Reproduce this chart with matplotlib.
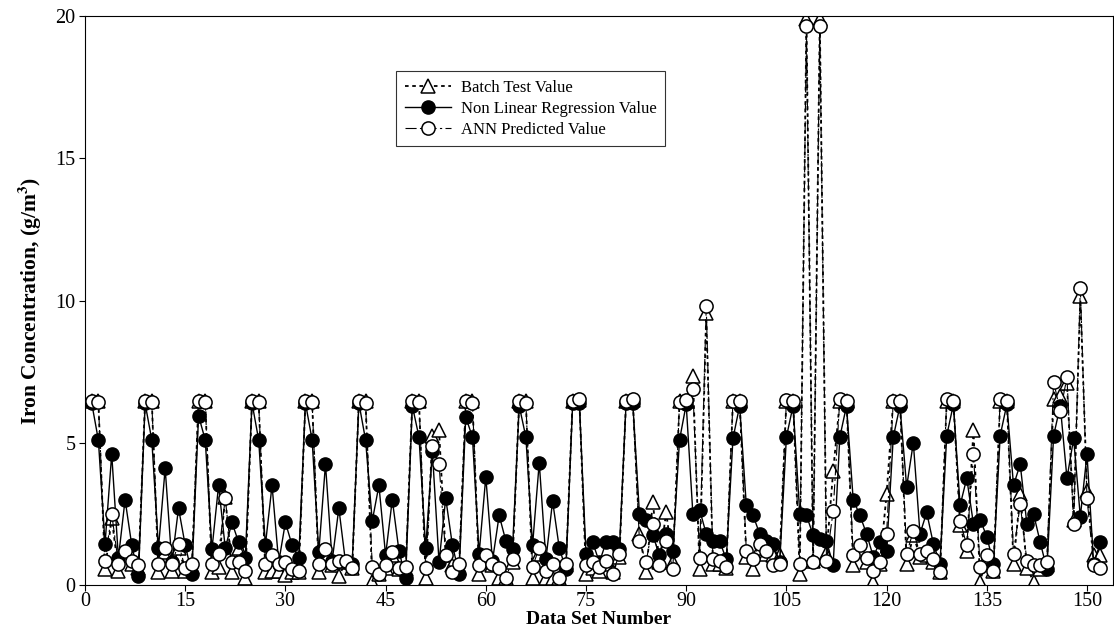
import numpy as np
import matplotlib
matplotlib.use("Agg")
import matplotlib.pyplot as plt

plt.rcParams['font.family'] = ['Liberation Serif', 'DejaVu Serif']
plt.rcParams['mathtext.fontset'] = 'stix'

data_set = np.arange(1, 153)

nonlinear = [
    6.40, 5.10, 1.45, 4.60, 0.95, 3.00, 1.40, 0.30,
    6.38, 5.10, 1.30, 4.10, 0.80, 2.70, 1.40, 0.40,
    5.95, 5.10, 1.25, 3.50, 1.30, 2.20, 1.50, 0.95,
    6.40, 5.10, 1.40, 3.50, 0.80, 2.20, 1.40, 0.95,
    6.40, 5.10, 1.15, 4.25, 0.85, 2.70, 0.80, 0.75,
    6.40, 5.10, 2.25, 3.50, 1.05, 3.00, 1.20, 0.25,
    6.30, 5.20, 1.30, 4.70, 0.80, 3.05, 1.40, 0.40,
    5.90, 5.20, 1.10, 3.80, 0.85, 2.45, 1.55, 1.25,
    6.30, 5.20, 1.40, 4.30, 0.90, 2.95, 1.30, 0.55,
    6.38, 6.38, 1.10, 1.50, 0.80, 1.50, 1.50, 1.25,
    6.40, 6.40, 2.50, 2.30, 1.75, 1.05, 1.80, 1.20,
    5.10, 6.35, 2.50, 2.65, 1.80, 1.55, 1.55, 0.90,
    5.15, 6.30, 2.80, 2.45, 1.80, 1.55, 1.45, 0.80,
    5.20, 6.30, 2.50, 2.45, 1.75, 1.60, 1.55, 0.70,
    5.20, 6.30, 3.00, 2.45, 1.80, 1.00, 1.50, 1.20,
    5.20, 6.30, 3.45, 5.00, 1.80, 2.55, 1.45, 0.75,
    5.25, 6.35, 2.80, 3.75, 2.15, 2.30, 1.70, 0.75,
    5.25, 6.35, 3.50, 4.25, 2.15, 2.50, 1.50, 0.55,
    5.25, 6.30, 3.75, 5.15, 2.40, 4.60, 0.75, 1.50,
]

ann = [
    6.45, 6.42, 0.85, 2.50, 0.75, 1.20, 0.85, 0.70,
    6.48, 6.42, 0.75, 1.30, 0.75, 1.45, 0.60, 0.75,
    6.48, 6.42, 0.75, 1.10, 3.05, 0.80, 0.80, 0.50,
    6.48, 6.42, 0.75, 1.05, 0.75, 0.80, 0.55, 0.50,
    6.48, 6.42, 0.75, 1.25, 0.75, 0.85, 0.85, 0.60,
    6.45, 6.40, 0.65, 0.40, 0.70, 1.15, 0.60, 0.65,
    6.45, 6.42, 0.60, 4.90, 4.25, 1.05, 0.45, 0.75,
    6.45, 6.40, 0.70, 1.05, 0.75, 0.60, 0.25, 0.90,
    6.45, 6.40, 0.65, 1.30, 0.50, 0.75, 0.25, 0.75,
    6.45, 6.55, 0.70, 0.80, 0.65, 0.85, 0.40, 1.10,
    6.45, 6.55, 1.55, 0.80, 2.15, 0.70, 1.55, 0.55,
    6.42, 6.50, 6.90, 0.95, 9.80, 0.90, 0.85, 0.65,
    6.48, 6.45, 1.20, 0.90, 1.45, 1.20, 0.70, 0.75,
    6.50, 6.48, 0.75, 19.65, 0.80, 19.65, 0.85, 2.60,
    6.55, 6.45, 1.05, 1.40, 0.95, 0.50, 0.80, 1.80,
    6.48, 6.45, 1.10, 1.90, 1.10, 1.20, 0.90, 0.45,
    6.55, 6.45, 2.25, 1.40, 4.60, 0.65, 1.05, 0.50,
    6.55, 6.45, 1.10, 2.85, 0.85, 0.70, 0.70, 0.80,
    7.15, 6.10, 7.30, 2.15, 10.45, 3.05, 0.70, 0.60,
]

batch = [
    6.45, 6.45, 0.55, 2.35, 0.50, 1.05, 0.75, 0.60,
    6.48, 6.45, 0.45, 1.15, 0.50, 1.30, 0.50, 0.65,
    6.48, 6.45, 0.45, 0.65, 3.10, 0.45, 1.30, 0.25,
    6.48, 6.45, 0.45, 0.50, 0.50, 0.35, 0.45, 0.45,
    6.48, 6.45, 0.45, 1.10, 0.70, 0.30, 0.80, 0.60,
    6.48, 6.45, 0.12, 0.40, 0.60, 1.05, 0.55, 0.55,
    6.48, 6.45, 0.25, 5.25, 5.45, 1.05, 0.70, 0.60,
    6.48, 6.45, 0.40, 0.95, 0.70, 0.25, 0.25, 0.80,
    6.48, 6.45, 0.25, 1.10, 0.25, 0.25, 0.25, 0.70,
    6.48, 6.50, 0.40, 0.60, 0.50, 0.75, 0.45, 1.00,
    6.48, 6.50, 1.80, 0.45, 2.90, 0.80, 2.55, 0.80,
    6.45, 6.48, 7.35, 0.55, 9.55, 0.75, 0.75, 0.60,
    6.48, 6.48, 1.00, 0.55, 1.30, 1.10, 1.05, 1.05,
    6.48, 6.48, 0.40, 19.90, 0.85, 19.90, 1.10, 4.00,
    6.48, 6.48, 0.70, 1.20, 0.80, 0.12, 0.75, 3.20,
    6.48, 6.48, 0.75, 1.75, 1.00, 1.05, 0.80, 0.45,
    6.48, 6.48, 2.10, 1.20, 5.45, 0.12, 1.00, 0.50,
    6.48, 6.48, 0.75, 3.20, 0.60, 0.12, 0.55, 0.70,
    6.55, 6.65, 7.10, 2.30, 10.15, 3.30, 1.05, 1.05,
]

x_ticks = [0, 15, 30, 45, 60, 75, 90, 105, 120, 135, 150]
y_ticks = [0, 5, 10, 15, 20]

fig = plt.figure(figsize=(11.14, 6.30), dpi=100)
ax = fig.add_axes([85 / 1114, (630 - 585) / 630, (1113 - 85) / 1114, (585 - 16) / 630])

ax.plot(data_set, batch, linestyle=(0, (2, 2)), color='black', lw=1.3,
        marker='^', ms=9.5, mfc='white', mec='black', mew=1.1,
        label='Batch Test Value', zorder=2)
ax.plot(data_set, nonlinear, linestyle='-', color='black', lw=1.0,
        marker='o', ms=9.5, mfc='black', mec='black', mew=1.0,
        label='Non Linear Regression Value', zorder=3)
ax.plot(data_set, ann, linestyle=(0, (10, 3, 2, 3)), color='black', lw=0.8,
        marker='o', ms=9.5, mfc='white', mec='black', mew=1.1,
        label='ANN Predicted Value', zorder=4)

ax.set_xlim(0, (1113 - 85) / 6.68)
ax.set_ylim(0, 20)
ax.set_xticks(x_ticks)
ax.set_yticks(y_ticks)
ax.tick_params(axis='both', direction='out', length=4, width=0.8, labelsize=14.5)
ax.tick_params(axis='x', pad=1)
ax.tick_params(axis='y', pad=3)
for s in ax.spines.values():
    s.set_linewidth(0.8)

# x-axis title sits just under the tick labels, near the bottom edge
fig.text(0.5 * (85 + 1113) / 1114, 2 / 630, 'Data Set Number', ha='center',
         va='bottom', fontsize=14, fontweight='bold')
ax.set_ylabel('Iron Concentration, (g/m$^\\mathbf{3}$)', fontsize=15.5,
              fontweight='bold', labelpad=8)

leg = ax.legend(loc='upper left', bbox_to_anchor=(388 / 1114, 1 - 63 / 630),
                bbox_transform=fig.transFigure, frameon=True, fancybox=False,
                edgecolor='black', fontsize=12, handlelength=2.8,
                borderpad=0.5, labelspacing=0.3, handletextpad=0.6)
leg.get_frame().set_linewidth(0.8)

fig.savefig('out.png', dpi=100)
